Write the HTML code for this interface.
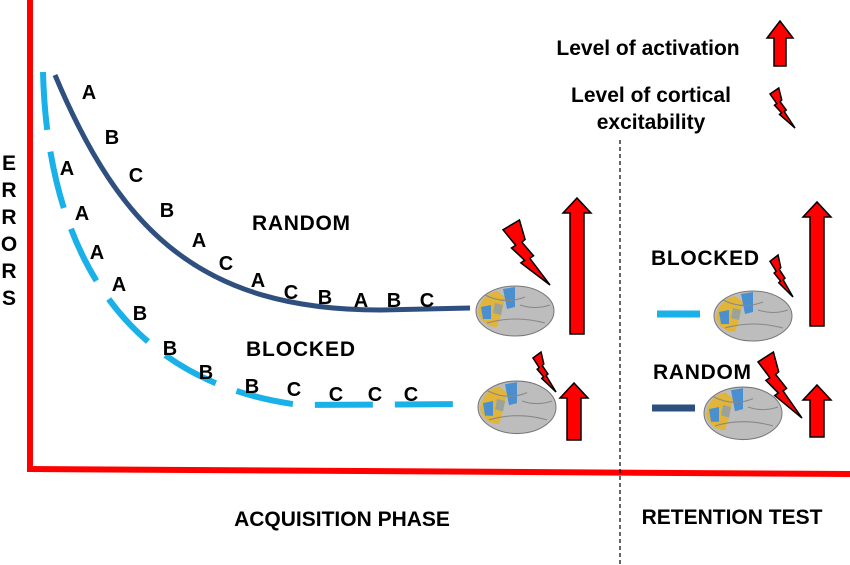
<!DOCTYPE html>
<html><head><style>
body{margin:0;background:#fff}
svg{display:block}
text{font-family:"Liberation Sans",Arial,sans-serif;font-weight:bold;fill:#000}
</style></head><body>
<svg width="850" height="565" viewBox="0 0 850 565" xmlns="http://www.w3.org/2000/svg">
<defs>
<path id="bolt" d="M0,0.15 L0.35,0 L0.47,0.3 L0.4,0.34 L0.65,0.55 L0.57,0.59 L1,1 L0.38,0.66 L0.46,0.62 L0.18,0.43 L0.27,0.39 Z" fill="#f00" stroke="#000" stroke-width="1.5" vector-effect="non-scaling-stroke" stroke-linejoin="miter"/>
<g id="brain">
<ellipse cx="40" cy="26" rx="39" ry="25" fill="#bdbdbd" stroke="#777" stroke-width="1"/>
<path d="M3,28 Q5,10 22,6 L30,12 L26,30 L22,42 Q8,42 3,28Z" fill="#e0b53a"/>
<path d="M28,4 L40,2 L40,22 L32,24 Z" fill="#4a90d0"/>
<path d="M6,22 L16,20 L16,34 L8,34 Z" fill="#4a90d0"/>
<path d="M20,18 L28,20 L26,30 L18,28Z" fill="#9aa39a"/>
<path d="M10,10 Q30,20 50,12 M12,38 Q40,30 70,38 M45,20 Q60,25 75,20" stroke="#888" fill="none"/>
</g>
</defs>
<line x1="30" y1="0" x2="30" y2="472" stroke="#f00" stroke-width="6"/>
<line x1="27" y1="469" x2="850" y2="474" stroke="#f00" stroke-width="6"/>
<line x1="620" y1="140" x2="620" y2="565" stroke="#000" stroke-width="1.2" stroke-dasharray="4 3"/>
<path d="M55,75 C120,230 200,310 380,310 L470,308" fill="none" stroke="#2f4f7f" stroke-width="5"/>
<path d="M43,72 C48,270 140,385 300,405 L470,404" fill="none" stroke="#1ab0e8" stroke-width="6" stroke-dasharray="58 22"/>
<g font-size="20" text-anchor="middle">
<text x="89" y="99">A</text><text x="112" y="144">B</text><text x="136" y="182">C</text><text x="167" y="217">B</text><text x="199" y="247">A</text><text x="226" y="270">C</text><text x="258" y="287">A</text><text x="291" y="299">C</text><text x="325" y="304">B</text><text x="361" y="307">A</text><text x="394" y="307">B</text><text x="427" y="307">C</text>
<text x="67" y="175">A</text><text x="82" y="220">A</text><text x="97" y="259">A</text><text x="119" y="291">A</text><text x="140" y="320">B</text><text x="170" y="355">B</text><text x="206" y="379">B</text><text x="252" y="393">B</text><text x="294" y="396">C</text><text x="336" y="401">C</text><text x="375" y="401">C</text><text x="411" y="401">C</text>
</g>
<g font-size="21">
<text x="252" y="230" textLength="98">RANDOM</text><text x="246" y="356" textLength="109">BLOCKED</text>
<text x="651" y="265" textLength="108">BLOCKED</text><text x="653" y="379" textLength="98">RANDOM</text>
</g>
<g font-size="21" text-anchor="middle">
<text x="9" y="170">E</text><text x="9" y="197">R</text><text x="9" y="224">R</text><text x="9" y="251">O</text><text x="9" y="278">R</text><text x="9" y="305">S</text>
<text x="342" y="526">ACQUISITION PHASE</text><text x="732" y="524">RETENTION TEST</text>
<text x="648" y="55">Level of activation</text><text x="651" y="102">Level of cortical</text><text x="651" y="129">excitability</text>
</g>
<line x1="657" y1="314" x2="700" y2="314" stroke="#1ab0e8" stroke-width="7"/>
<line x1="652" y1="408" x2="695" y2="408" stroke="#2f4f7f" stroke-width="7"/>
<use href="#brain" transform="translate(475,285)"/>
<use href="#brain" transform="translate(477,380) scale(1,1.05)"/>
<use href="#brain" transform="translate(713,290)"/>
<use href="#brain" transform="translate(703,386) scale(1,1.05)"/>
<g fill="#f00" stroke="#000" stroke-width="1.5">
<path d="M774,66 L774,38 L767,38 L780,21 L793,38 L786,38 L786,66 Z"/>
<path d="M570,334 L570,213 L563,213 L577,198 L591,213 L584,213 L584,334 Z"/>
<path d="M567,440 L567,398 L560,398 L574,383 L588,398 L581,398 L581,440 Z"/>
<path d="M810,326 L810,217 L803,217 L817,202 L831,217 L824,217 L824,326 Z"/>
<path d="M810,437 L810,400 L803,400 L817,385 L831,400 L824,400 L824,437 Z"/>
</g>
<use href="#bolt" transform="translate(770,88) scale(25,40)"/>
<use href="#bolt" transform="translate(503,220) scale(47,65)"/>
<use href="#bolt" transform="translate(533,352) scale(23,40)"/>
<use href="#bolt" transform="translate(770,255) scale(23,42)"/>
<use href="#bolt" transform="translate(758,352) scale(44,66)"/>
</svg>
</body></html>
